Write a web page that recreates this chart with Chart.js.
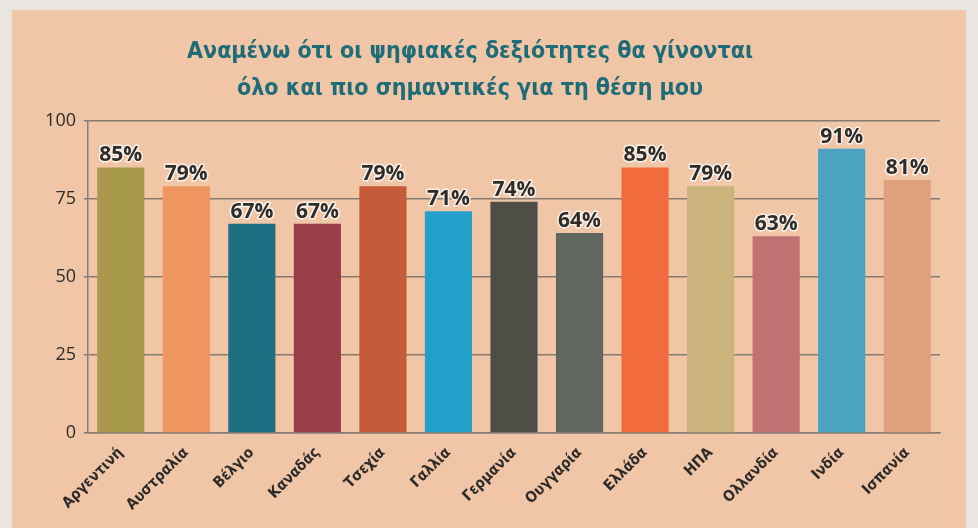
<!DOCTYPE html>
<html>
<head>
<meta charset="utf-8">
<script src="https://cdn.jsdelivr.net/npm/chart.js@4/dist/chart.umd.min.js"></script>
<style>
  html, body { margin: 0; padding: 0; background: #e9e5e1; }
  #wrap { position: relative; width: 978px; height: 528px; }
</style>
</head>
<body>
<div id="wrap"><canvas id="chart_digitalSkills" width="978" height="528"></canvas></div>
<script>
var countries = [
    'Αργεντινή', 'Αυστραλία', 'Βέλγιο', 'Καναδάς', 'Τσεχία', 'Γαλλία', 'Γερμανία',
    'Ουγγαρία', 'Ελλάδα', 'ΗΠΑ', 'Ολλανδία', 'Ινδία', 'Ισπανία'
];
var shares = [85, 79, 67, 67, 79, 71, 74, 64, 85, 79, 63, 91, 81];
var barColors = [
    '#a99a4b', '#f0955f', '#1e6f82', '#993e47', '#c55b39', '#23a0c8', '#4f4e46',
    '#5f675f', '#f26b3d', '#c9b47b', '#c07171', '#4ba3c1', '#e0a07d'
];
var yTicks = [0, 25, 50, 75, 100];
var titleLines = [
    'Αναμένω ότι οι ψηφιακές δεξιότητες θα γίνονται',
    'όλο και πιο σημαντικές για τη θέση μου'
];

var condensed = '"DejaVu Sans Condensed", "DejaVu Sans", sans-serif';

var chart_digitalSkills = new Chart(document.getElementById('chart_digitalSkills'), {
    type: 'bar',
    data: {
        labels: countries,
        datasets: [
            {
                label: 'share',
                data: shares,
                backgroundColor: barColors,
                borderWidth: 0,
                categoryPercentage: 1,
                barPercentage: 0.72
            }
        ]
    },
    options: {
        animation: false,
        responsive: false,
        layout: {
            padding: { top: 22, right: 38, bottom: 0, left: 0 }
        },
        plugins: {
            legend: { display: false },
            tooltip: { enabled: false },
            title: {
                display: true,
                text: titleLines,
                color: '#1e6c77',
                font: { family: condensed, size: 23, weight: 'bold', lineHeight: 1.6 },
                padding: { top: 12, bottom: 13 }
            }
        },
        scales: {
            x: {
                grid: { display: false },
                border: { display: true, color: '#8a7e74', width: 1.5 },
                ticks: {
                    color: '#2e2b28',
                    font: { family: condensed, size: 15, weight: 'bold' },
                    minRotation: 45,
                    maxRotation: 45,
                    padding: 3
                },
                afterFit: function (scale) { scale.height = 95; }
            },
            y: {
                min: 0,
                max: 100,
                afterBuildTicks: function (scale) {
                    scale.ticks = yTicks.map(function (v) { return { value: v }; });
                },
                grid: {
                    color: '#857a70',
                    lineWidth: 1.5,
                    tickLength: 4
                },
                border: { display: true, color: '#8a7e74', width: 1.5 },
                ticks: {
                    color: '#2e2b28',
                    font: { family: 'Open Sans', size: 18 },
                    padding: 8
                },
                afterFit: function (scale) { scale.width = 88; }
            }
        }
    },
    plugins: [{
        id: 'paperBackground',
        beforeDraw: function (chart) {
            var ctx = chart.ctx;
            ctx.save();
            ctx.fillStyle = '#e9e5e1';
            ctx.fillRect(0, 0, chart.width, chart.height);
            ctx.fillStyle = '#f1c6a7';
            ctx.fillRect(12, 10, 954, chart.height - 10);
            ctx.restore();
        }
    }, {
        id: 'valueLabels',
        afterDatasetsDraw: function (chart) {
            var ctx = chart.ctx;
            var meta = chart.getDatasetMeta(0);
            ctx.save();
            ctx.font = 'bold 21px "Open Sans"';
            ctx.textAlign = 'center';
            ctx.textBaseline = 'alphabetic';
            ctx.lineJoin = 'round';
            meta.data.forEach(function (bar, i) {
                var txt = shares[i] + '%';
                ctx.strokeStyle = 'rgba(255,255,255,0.75)';
                ctx.lineWidth = 3;
                ctx.strokeText(txt, bar.x, bar.y - 6);
                ctx.fillStyle = '#2f2d2a';
                ctx.fillText(txt, bar.x, bar.y - 6);
            });
            ctx.restore();
        }
    }]
});
</script>
</body>
</html>
